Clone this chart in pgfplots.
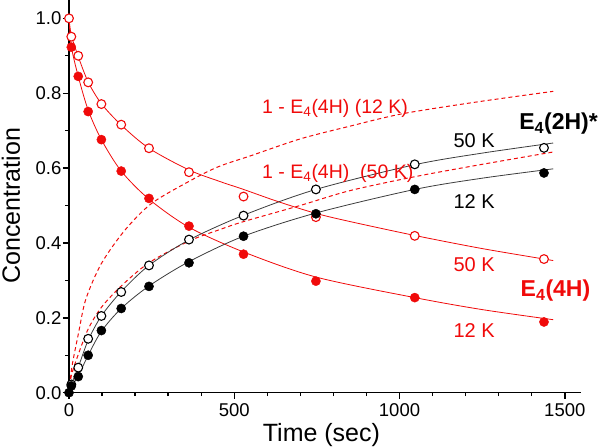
\documentclass[border=0pt]{standalone}
\usepackage{fontspec}
\setmainfont{Liberation Sans}
\usepackage{pgfplots}
\pgfplotsset{compat=1.18}
\definecolor{myred}{RGB}{240,10,10}
\definecolor{mygray}{RGB}{60,60,60}
\begin{document}
\begin{tikzpicture}
\begin{axis}[
  scale only axis,
  width=512bp, height=392.7bp,
  xmin=0, xmax=1549, ymin=0, ymax=1.049,
  axis lines*=left,
  axis line style={line width=1.5bp, black},
  clip=false,
  xtick={0,500,1000,1500},
  xticklabels={0,500,1000,1500},
  ytick={0,0.2,0.4,0.6,0.8,1.0},
  yticklabels={0.0,0.2,0.4,0.6,0.8,1.0},
  minor x tick num=4,
  minor y tick num=1,
  tick align=outside,
  major tick length=6bp,
  minor tick length=3.5bp,
  every tick/.style={line width=1.4bp, black},
  tick label style={font=\fontsize{18.5bp}{20bp}\selectfont},
  yticklabel style={inner xsep=1.5bp},
  xticklabel style={inner ysep=5bp},
  xlabel={Time (sec)},
  ylabel={Concentration},
  label style={font=\fontsize{25bp}{28bp}\selectfont},
  xlabel style={at={(axis description cs:0.493,-0.123)}, anchor=base},
  ylabel style={at={(axis description cs:-0.1133,0.476)}, anchor=center},
]
% dashed 1 - E4(4H) curves
\addplot[myred, dashed, dash pattern=on 4bp off 3bp, line width=1bp, smooth, no marks] coordinates {
(0,0) (9,0.07) (29,0.16) (51,0.25) (98,0.345) (169,0.434) (249,0.505) (360,0.563) (450,0.603) (550,0.633) (700,0.678) (850,0.712) (1008,0.745) (1229,0.776) (1465,0.805)};
\addplot[myred, dashed, dash pattern=on 4bp off 3bp, line width=1bp, smooth, no marks] coordinates {
(0,0) (7,0.045) (28,0.102) (58,0.17) (98,0.228) (158,0.285) (242,0.347) (363,0.405) (457,0.436) (528,0.457) (699,0.50) (851,0.54) (1052,0.578) (1250,0.61) (1465,0.643)};
% fit lines
\addplot[myred, line width=0.8bp, smooth, no marks] coordinates {
(0,1.0) (7,0.955) (28,0.898) (58,0.830) (98,0.772) (158,0.715) (242,0.653) (363,0.595) (457,0.564) (528,0.543) (634,0.510) (747,0.479) (851,0.457) (1046,0.420) (1250,0.385) (1465,0.353)};
\addplot[myred, line width=0.8bp, smooth, no marks] coordinates {
(0,1.0) (7,0.925) (28,0.845) (58,0.755) (98,0.676) (158,0.592) (242,0.517) (363,0.442) (528,0.376) (747,0.309) (1046,0.254) (1250,0.222) (1465,0.195)};
\addplot[mygray, line width=0.8bp, smooth, no marks] coordinates {
(0,0) (7,0.022) (28,0.068) (58,0.140) (98,0.205) (158,0.270) (242,0.340) (363,0.408) (528,0.474) (747,0.543) (1046,0.609) (1250,0.640) (1465,0.667)};
\addplot[mygray, line width=0.8bp, smooth, no marks] coordinates {
(0,0) (7,0.016) (28,0.045) (58,0.100) (98,0.164) (158,0.225) (242,0.285) (363,0.350) (528,0.418) (747,0.480) (1046,0.543) (1250,0.573) (1465,0.598)};
% data points
\addplot[only marks, mark=*, mark size=4.4bp, mark options={draw=myred, fill=white, line width=1.1bp}] coordinates {
(0,1.000) (7,0.951) (28,0.900) (58,0.829) (98,0.771) (158,0.716) (242,0.653) (363,0.589) (528,0.524) (747,0.469) (1046,0.419) (1437,0.357)};
\addplot[only marks, mark=*, mark size=4.6bp, mark options={draw=myred, fill=myred}] coordinates {
(7,0.923) (28,0.845) (58,0.751) (98,0.676) (158,0.592) (242,0.519) (363,0.445) (528,0.370) (747,0.298) (1046,0.254) (1437,0.189)};
\addplot[only marks, mark=*, mark size=4.4bp, mark options={draw=black, fill=white, line width=1.1bp}] coordinates {
(7,0.022) (28,0.067) (58,0.144) (98,0.205) (158,0.269) (242,0.340) (363,0.409) (528,0.473) (747,0.543) (1046,0.610) (1437,0.654)};
\addplot[only marks, mark=*, mark size=4.6bp, mark options={draw=black, fill=black}] coordinates {
(0,0.0) (7,0.018) (28,0.043) (58,0.100) (98,0.166) (158,0.225) (242,0.284) (363,0.347) (528,0.418) (747,0.478) (1046,0.543) (1437,0.587)};
% annotations
\node[anchor=base west, text=myred, inner sep=0pt, font=\fontsize{19.5bp}{22bp}\selectfont] at (axis cs:584,0.7467) {1 - E\textsubscript{4}(4H) (12 K)};
\node[anchor=base west, text=myred, inner sep=0pt, font=\fontsize{19.5bp}{22bp}\selectfont] at (axis cs:584,0.573) {1 - E\textsubscript{4}(4H)\ \ (50 K)};
\node[anchor=base west, text=black, inner sep=0pt, font=\fontsize{20bp}{22bp}\selectfont] at (axis cs:1163,0.656) {50 K};
\node[anchor=base west, text=black, inner sep=0pt, font=\fontsize{20bp}{22bp}\selectfont] at (axis cs:1163,0.4928) {12 K};
\node[anchor=base west, text=myred, inner sep=0pt, font=\fontsize{20bp}{22bp}\selectfont] at (axis cs:1163,0.3234) {50 K};
\node[anchor=base west, text=myred, inner sep=0pt, font=\fontsize{20bp}{22bp}\selectfont] at (axis cs:1163,0.147) {12 K};
\node[anchor=base west, text=black, inner sep=0pt, font=\fontsize{23bp}{26bp}\selectfont\bfseries] at (axis cs:1362,0.702) {E\textsubscript{4}(2H)*};
\node[anchor=base west, text=myred, inner sep=0pt, font=\fontsize{23bp}{26bp}\selectfont\bfseries] at (axis cs:1366,0.2566) {E\textsubscript{4}(4H)};
\end{axis}
\pgfresetboundingbox
\path[use as bounding box] (-69bp,-54.3bp) rectangle (531bp,392.7bp);
\end{tikzpicture}
\end{document}
